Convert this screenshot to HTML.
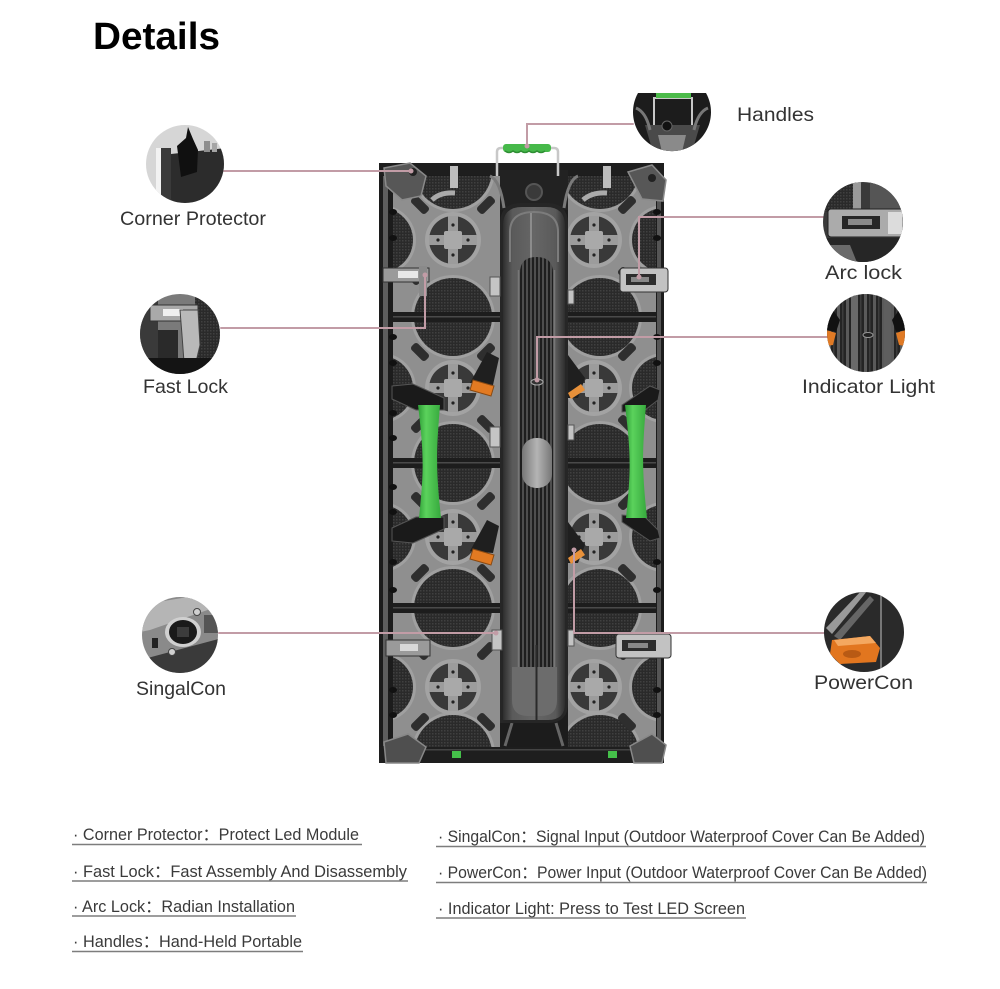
<!DOCTYPE html>
<html><head><meta charset="utf-8"><style>
html,body{margin:0;padding:0;background:#fff;}
svg{display:block;}
text{font-family:"Liberation Sans","Noto Sans CJK SC",Arial,sans-serif;}
</style></head><body>
<svg width="1000" height="989" viewBox="0 0 1000 989" xmlns="http://www.w3.org/2000/svg">
<defs>
 <pattern id="mesh" width="3" height="3" patternUnits="userSpaceOnUse"><rect width="3" height="3" fill="#2a2a2a"/><rect width="1.5" height="1.5" fill="#404040"/></pattern>
 <pattern id="groove" width="4" height="10" patternUnits="userSpaceOnUse"><rect width="4" height="10" fill="#4e4e4e"/><rect width="2" height="10" fill="#1e1e1e"/></pattern>
 <pattern id="stripes" width="9" height="10" patternUnits="userSpaceOnUse"><rect width="9" height="10" fill="#242424"/><rect x="0" width="3" height="10" fill="#5a5a5a"/><rect x="5" width="1.5" height="10" fill="#3c3c3c"/></pattern>
 <linearGradient id="spineG" x1="0" x2="1"><stop offset="0" stop-color="#2e2e2e"/><stop offset=".15" stop-color="#5a5a5a"/><stop offset=".5" stop-color="#666"/><stop offset=".85" stop-color="#5a5a5a"/><stop offset="1" stop-color="#2e2e2e"/></linearGradient>
 <linearGradient id="ovalG" x1="0" x2="1"><stop offset="0" stop-color="#777"/><stop offset=".5" stop-color="#b4b4b4"/><stop offset="1" stop-color="#777"/></linearGradient>
 <linearGradient id="greenG" x1="0" x2="1"><stop offset="0" stop-color="#2f9e37"/><stop offset=".35" stop-color="#5bd25c"/><stop offset="1" stop-color="#36a83d"/></linearGradient>
 <clipPath id="colL"><rect x="393" y="176" width="107" height="572"/></clipPath>
 <clipPath id="colR"><rect x="568" y="176" width="88" height="572"/></clipPath>
 <clipPath id="c1"><circle cx="185" cy="164" r="39"/></clipPath>
 <clipPath id="c2"><circle cx="180" cy="334" r="40"/></clipPath>
 <clipPath id="c3"><path d="M638,93 L706,93 A39,39 0 1,1 638,93 Z"/></clipPath>
 <clipPath id="c4"><circle cx="863" cy="222" r="40"/></clipPath>
 <clipPath id="c5"><circle cx="866" cy="333" r="39"/></clipPath>
 <clipPath id="c6"><circle cx="180" cy="635" r="38"/></clipPath>
 <clipPath id="c7"><circle cx="864" cy="632" r="40"/></clipPath>
 <g id="petal">
  <circle r="28" fill="#a3a3a3"/>
  <circle r="24" fill="#393939"/>
  <path d="M-24,-5H24V5H-24Z M-5,-24H5V24H-5Z" fill="#9c9c9c"/>
  <rect x="-9" y="-9" width="18" height="18" rx="2" fill="#a9a9a9"/>
  <circle cx="-15" cy="0" r="1.6" fill="#222"/><circle cx="15" cy="0" r="1.6" fill="#222"/>
  <circle cx="0" cy="-15" r="1.6" fill="#222"/><circle cx="0" cy="15" r="1.6" fill="#222"/>
 </g>
 <g id="big"><circle r="42" fill="#a0a0a0"/><circle r="39" fill="url(#mesh)"/></g>
 <g id="side"><circle r="35" fill="#a0a0a0"/><circle r="32" fill="url(#mesh)"/></g>
 <rect id="pad" x="-10" y="-4.5" width="20" height="9" rx="3" fill="#2e2e2e"/>
</defs>

<!-- Title -->
<text x="93" y="49" font-size="38" font-weight="bold" fill="#000" textLength="127" lengthAdjust="spacingAndGlyphs">Details</text>

<!-- ===== Cabinet ===== -->
<rect x="379" y="163" width="285" height="600" fill="#1c1c1c"/>
<rect x="383" y="176" width="5" height="570" fill="#5e5e5e"/>
<rect x="657" y="178" width="4" height="568" fill="#555"/>

<!-- Left column -->
<g clip-path="url(#colL)">
 <rect x="393" y="176" width="107" height="572" fill="#8f8f8f"/>
 <use href="#side" x="381" y="240"/><use href="#side" x="381" y="388"/><use href="#side" x="381" y="537"/><use href="#side" x="381" y="687"/>
 <use href="#big" x="453" y="170"/><use href="#big" x="453" y="317"/><use href="#big" x="453" y="463"/><use href="#big" x="453" y="608"/><use href="#big" x="453" y="754"/>
 <g>
  <use href="#pad" transform="translate(420,205) rotate(45)"/><use href="#pad" transform="translate(486,205) rotate(-45)"/>
  <use href="#pad" transform="translate(420,276) rotate(-45)"/>
  <use href="#pad" transform="translate(420,352) rotate(45)"/><use href="#pad" transform="translate(486,352) rotate(-45)"/>
  <use href="#pad" transform="translate(420,424) rotate(-45)"/><use href="#pad" transform="translate(486,424) rotate(45)"/>
  <use href="#pad" transform="translate(420,501) rotate(45)"/><use href="#pad" transform="translate(486,501) rotate(-45)"/>
  <use href="#pad" transform="translate(420,573) rotate(-45)"/><use href="#pad" transform="translate(486,573) rotate(45)"/>
  <use href="#pad" transform="translate(420,651) rotate(45)"/><use href="#pad" transform="translate(486,651) rotate(-45)"/>
  <use href="#pad" transform="translate(420,722) rotate(-45)"/><use href="#pad" transform="translate(486,722) rotate(45)"/>
 </g>
 <use href="#petal" x="453" y="240"/><use href="#petal" x="453" y="388"/><use href="#petal" x="453" y="537"/><use href="#petal" x="453" y="687"/>
 <g fill="#1d1d1d">
  <rect x="393" y="312" width="107" height="10"/><rect x="393" y="458" width="107" height="10"/><rect x="393" y="603" width="107" height="10"/>
 </g>
 <g fill="#4a4a4a">
  <rect x="393" y="316" width="107" height="1.5"/><rect x="393" y="462" width="107" height="1.5"/><rect x="393" y="607" width="107" height="1.5"/>
 </g>
</g>

<!-- Right column -->
<g clip-path="url(#colR)">
 <rect x="568" y="176" width="88" height="572" fill="#8f8f8f"/>
 <use href="#side" x="664" y="240"/><use href="#side" x="664" y="388"/><use href="#side" x="664" y="537"/><use href="#side" x="664" y="687"/>
 <use href="#big" x="600" y="170"/><use href="#big" x="600" y="317"/><use href="#big" x="600" y="463"/><use href="#big" x="600" y="608"/><use href="#big" x="600" y="754"/>
 <use href="#pad" transform="translate(627,205) rotate(-45)"/><use href="#pad" transform="translate(627,276) rotate(45)"/>
 <use href="#pad" transform="translate(627,352) rotate(-45)"/><use href="#pad" transform="translate(627,424) rotate(45)"/>
 <use href="#pad" transform="translate(627,501) rotate(-45)"/><use href="#pad" transform="translate(627,573) rotate(45)"/>
 <use href="#pad" transform="translate(627,651) rotate(-45)"/><use href="#pad" transform="translate(627,722) rotate(45)"/>
 <use href="#petal" x="594" y="240"/><use href="#petal" x="594" y="388"/><use href="#petal" x="594" y="537"/><use href="#petal" x="594" y="687"/>
 <g fill="#1d1d1d">
  <rect x="568" y="312" width="88" height="10"/><rect x="568" y="458" width="88" height="10"/><rect x="568" y="603" width="88" height="10"/>
 </g>
 <g fill="#4a4a4a">
  <rect x="568" y="316" width="88" height="1.5"/><rect x="568" y="462" width="88" height="1.5"/><rect x="568" y="607" width="88" height="1.5"/>
 </g>
</g>

<!-- edge tabs -->
<g fill="#111">
 <ellipse cx="393" cy="212" rx="4" ry="3"/><ellipse cx="393" cy="238" rx="4" ry="3"/><ellipse cx="393" cy="337" rx="4" ry="3"/><ellipse cx="393" cy="363" rx="4" ry="3"/>
 <ellipse cx="393" cy="413" rx="4" ry="3"/><ellipse cx="393" cy="438" rx="4" ry="3"/><ellipse cx="393" cy="487" rx="4" ry="3"/><ellipse cx="393" cy="512" rx="4" ry="3"/>
 <ellipse cx="393" cy="562" rx="4" ry="3"/><ellipse cx="393" cy="590" rx="4" ry="3"/><ellipse cx="393" cy="690" rx="4" ry="3"/><ellipse cx="393" cy="715" rx="4" ry="3"/>
 <ellipse cx="657" cy="212" rx="4" ry="3"/><ellipse cx="657" cy="238" rx="4" ry="3"/><ellipse cx="657" cy="337" rx="4" ry="3"/><ellipse cx="657" cy="363" rx="4" ry="3"/>
 <ellipse cx="657" cy="562" rx="4" ry="3"/><ellipse cx="657" cy="590" rx="4" ry="3"/><ellipse cx="657" cy="690" rx="4" ry="3"/><ellipse cx="657" cy="715" rx="4" ry="3"/>
</g>

<!-- top frame & mechanics -->
<rect x="379" y="163" width="285" height="12" fill="#1e1e1e"/>
<rect x="500" y="170" width="68" height="40" fill="#222"/>
<path d="M490,176 Q500,180 504,208" stroke="#7a7a7a" stroke-width="3" fill="none"/>
<path d="M578,176 Q568,180 564,208" stroke="#7a7a7a" stroke-width="3" fill="none"/>
<circle cx="534" cy="192" r="8" fill="#3a3a3a" stroke="#555" stroke-width="2"/>
<rect x="450" y="166" width="8" height="22" fill="#bdbdbd"/><rect x="603" y="166" width="8" height="22" fill="#bdbdbd"/>
<path d="M432,200 Q440,192 455,193" stroke="#aaa" stroke-width="5" fill="none"/>
<path d="M583,200 Q592,192 607,193" stroke="#aaa" stroke-width="5" fill="none"/>
<polygon points="384,168 410,163 426,176 421,196 402,200 386,186" fill="#575757" stroke="#8a8a8a" stroke-width="1.5"/>
<circle cx="413" cy="172" r="4" fill="#222"/>
<polygon points="628,172 652,165 666,180 663,201 642,199" fill="#575757" stroke="#8a8a8a" stroke-width="1.5"/>
<circle cx="652" cy="178" r="4" fill="#222"/>

<!-- bottom frame -->
<rect x="379" y="747" width="285" height="16" fill="#1e1e1e"/>
<rect x="393" y="749" width="262" height="1.5" fill="#444"/>
<polygon points="384,742 408,734 426,747 419,763 386,763" fill="#4f4f4f" stroke="#888" stroke-width="1.5"/>
<polygon points="630,746 652,734 666,745 662,763 634,763" fill="#4f4f4f" stroke="#888" stroke-width="1.5"/>
<rect x="452" y="751" width="9" height="7" fill="#45c04a"/><rect x="608" y="751" width="9" height="7" fill="#45c04a"/>
<path d="M505,746 L512,723 M563,746 L556,723" stroke="#666" stroke-width="3"/>

<!-- spine -->
<path d="M500,723 V224 Q500,203 521,203 H547 Q568,203 568,224 V703 Q568,723 548,723 Z" fill="#262626"/>
<path d="M503,720 V226 Q503,207 522,207 H546 Q565,207 565,226 V703 Q565,720 548,720 Z" fill="url(#spineG)"/>
<path d="M510,262 V232 Q510,212 534,212 Q558,212 558,232 V262" stroke="#7c7c7c" stroke-width="2" fill="none"/>
<line x1="531" y1="213" x2="531" y2="262" stroke="#9a9a9a" stroke-width="1.5"/>
<path d="M520,667 V273 Q520,257 536.5,257 Q553,257 553,273 V667 Z" fill="url(#groove)"/>
<line x1="518.5" y1="270" x2="518.5" y2="668" stroke="#777" stroke-width="1.5"/>
<line x1="554.5" y1="270" x2="554.5" y2="668" stroke="#777" stroke-width="1.5"/>
<path d="M512,667 H557 V700 Q557,716 541,716 H528 Q512,716 512,700 Z" fill="#6c6c6c"/>
<line x1="536.5" y1="645" x2="536.5" y2="720" stroke="#2a2a2a" stroke-width="2"/>
<rect x="522" y="438" width="30" height="50" rx="14" fill="url(#ovalG)"/>
<ellipse cx="537" cy="382" rx="6" ry="3" fill="#333" stroke="#aaa" stroke-width="1"/>

<!-- spine clips -->
<g fill="#c4c4c4" stroke="#555" stroke-width="1">
 <rect x="490" y="277" width="10" height="19"/><rect x="490" y="427" width="10" height="20"/><rect x="492" y="630" width="10" height="20"/>
 <rect x="568" y="425" width="6" height="15"/><rect x="568" y="630" width="6" height="16"/><rect x="568" y="290" width="6" height="14"/>
</g>

<!-- top handle -->
<path d="M497,176 V152 Q497,148 501,148 H554 Q558,148 558,152 V176" stroke="#c8c8c8" stroke-width="2.5" fill="none"/>
<rect x="503" y="144" width="48" height="8" rx="3" fill="#46b94a"/>
<path d="M505,151 q4,3 8,0 q4,3 8,0 q4,3 8,0 q4,3 8,0 q4,3 8,0" stroke="#2f8f34" stroke-width="1.5" fill="none"/>

<!-- fast locks left -->
<rect x="383" y="268" width="46" height="14" fill="#9a9a9a" stroke="#333"/>
<rect x="398" y="271" width="20" height="7" fill="#e8e8e8"/>
<rect x="419" y="266" width="8" height="30" fill="#8a8a8a"/>
<rect x="386" y="640" width="44" height="16" fill="#9a9a9a" stroke="#333"/>
<rect x="400" y="644" width="18" height="7" fill="#d8d8d8"/>

<!-- arc locks right -->
<rect x="620" y="268" width="48" height="24" rx="3" fill="#c2c2c2" stroke="#333"/>
<rect x="626" y="274" width="30" height="11" fill="#2d2d2d"/>
<rect x="631" y="277" width="18" height="5" fill="#888"/>
<rect x="616" y="634" width="55" height="24" rx="3" fill="#c2c2c2" stroke="#333"/>
<rect x="622" y="640" width="34" height="11" fill="#2d2d2d"/>
<rect x="628" y="643" width="20" height="5" fill="#888"/>

<!-- green side handles -->
<polygon points="392,386 413,384 444,398 444,410 416,410 392,399" fill="#1a1a1a" stroke="#555"/>
<polygon points="392,541 413,543 444,529 444,517 416,517 392,528" fill="#1a1a1a" stroke="#555"/>
<path d="M418,405 C424,455 424,470 419,518 L441,518 C436,470 436,455 440,405 Z" fill="url(#greenG)"/>
<polygon points="622,405 650,386 660,390 658,400 645,410 622,412" fill="#1a1a1a" stroke="#555"/>
<polygon points="622,515 645,517 658,530 660,538 650,541 622,522" fill="#1a1a1a" stroke="#555"/>
<path d="M625,405 C631,455 631,470 626,518 L647,518 C642,470 642,455 646,405 Z" fill="url(#greenG)"/>

<!-- orange connectors -->
<polygon points="470,383 487,352 499,358 493,385" fill="#1f1f1f"/>
<polygon points="473,380 494,386 491,396 470,390" fill="#e27a22" stroke="#8a4a12" stroke-width="1"/>
<polygon points="470,551 487,520 499,526 493,553" fill="#1f1f1f"/>
<polygon points="473,549 494,555 491,565 470,559" fill="#e27a22" stroke="#8a4a12" stroke-width="1"/>
<polygon points="568,355 585,378 578,398 568,398" fill="#1f1f1f"/>
<polygon points="568,393 581,384 585,390 571,399" fill="#e8913a"/>
<polygon points="568,522 585,545 578,563 568,563" fill="#1f1f1f"/>
<polygon points="568,558 581,549 585,555 571,564" fill="#e8913a"/>

<!-- ===== callout lines ===== -->
<g stroke="#c29ca6" stroke-width="2" fill="none" stroke-linecap="round">
 <path d="M224,171 H411"/>
 <path d="M221,328 H425 V275"/>
 <path d="M527,146 V124 H633"/>
 <path d="M824,217 H639 V277"/>
 <path d="M827,337 H537 V380"/>
 <path d="M219,633 H496"/>
 <path d="M824,633 H574 V550"/>
</g>
<g fill="#c29ca6">
 <circle cx="411" cy="171" r="2.5"/><circle cx="425" cy="275" r="2.5"/><circle cx="527" cy="146" r="2.5"/>
 <circle cx="639" cy="277" r="2.5"/><circle cx="537" cy="380" r="2.5"/><circle cx="496" cy="633" r="2.5"/><circle cx="574" cy="550" r="2.5"/>
</g>

<!-- ===== callout circles ===== -->
<!-- Corner Protector -->
<g clip-path="url(#c1)">
 <rect x="140" y="120" width="90" height="90" fill="#d6d6d6"/>
 <rect x="156" y="148" width="5" height="60" fill="#f2f2f2"/>
 <rect x="161" y="148" width="10" height="60" fill="#3a3a3a"/>
 <polygon points="171,154 226,148 226,210 171,210" fill="#2c2c2c"/>
 <polygon points="177,146 186,138 188,127 193,139 198,150 197,172 181,177" fill="#101010"/>
 <rect x="204" y="141" width="6" height="11" fill="#8e8e8e"/><rect x="212" y="143" width="5" height="9" fill="#a5a5a5"/>
</g>
<!-- Fast Lock -->
<g clip-path="url(#c2)">
 <rect x="138" y="292" width="85" height="85" fill="#7a7a7a"/>
 <rect x="195" y="292" width="30" height="70" fill="url(#mesh)"/>
 <rect x="138" y="292" width="20" height="85" fill="#3a3a3a"/>
 <rect x="150" y="305" width="48" height="16" fill="#a9a9a9" stroke="#333"/>
 <rect x="163" y="309" width="20" height="7" fill="#f0f0f0"/>
 <polygon points="180,310 198,310 200,345 196,362 184,362 182,335" fill="#b9b9b9" stroke="#444"/>
 <rect x="138" y="358" width="85" height="20" fill="#141414"/>
 <rect x="158" y="330" width="20" height="28" fill="#2a2a2a"/>
</g>
<!-- Handles -->
<g clip-path="url(#c3)">
 <rect x="630" y="90" width="85" height="65" fill="#1c1c1c"/>
 <path d="M654,125 V98 H692 V125" stroke="#c8c8c8" stroke-width="2" fill="none"/>
 <rect x="656" y="92" width="35" height="6" fill="#4cbb4a"/>
 <polygon points="645,125 700,125 692,152 653,152" fill="#4a4a4a"/>
 <polygon points="658,135 686,135 682,152 662,152" fill="#8a8a8a"/>
 <circle cx="667" cy="126" r="5" fill="#111" stroke="#666"/>
 <path d="M636,108 Q646,112 650,130" stroke="#777" stroke-width="3" fill="none"/>
 <path d="M708,108 Q698,112 694,130" stroke="#777" stroke-width="3" fill="none"/>
</g>
<!-- Arc lock -->
<g clip-path="url(#c4)">
 <rect x="820" y="180" width="86" height="85" fill="#3a3a3a"/>
 <rect x="820" y="180" width="36" height="32" fill="url(#mesh)"/>
 <rect x="853" y="180" width="8" height="32" fill="#9a9a9a"/>
 <rect x="870" y="182" width="30" height="28" fill="#555"/>
 <rect x="828" y="209" width="76" height="28" rx="3" fill="#ababab" stroke="#222"/>
 <rect x="842" y="216" width="38" height="13" fill="#262626"/>
 <rect x="848" y="219" width="24" height="6" fill="#8a8a8a"/>
 <rect x="888" y="212" width="14" height="22" fill="#dcdcdc"/>
 <rect x="820" y="238" width="86" height="28" fill="#262626"/>
 <polygon points="825,245 850,245 858,265 825,265" fill="#6a6a6a"/>
</g>
<!-- Indicator Light -->
<g clip-path="url(#c5)">
 <rect x="826" y="293" width="82" height="82" fill="url(#stripes)"/>
 <rect x="851" y="293" width="7" height="82" fill="#6a6a6a"/>
 <rect x="884" y="293" width="7" height="82" fill="#5e5e5e"/>
 <ellipse cx="868" cy="335" rx="5" ry="2.5" fill="#222" stroke="#999"/>
 <polygon points="826,330 836,333 833,345 826,346" fill="#e07a25"/>
 <polygon points="906,330 896,333 899,345 906,346" fill="#e07a25"/>
 <polygon points="826,300 840,320 836,332 826,330" fill="#111"/>
 <polygon points="906,300 892,320 896,332 906,330" fill="#111"/>
</g>
<!-- SingalCon -->
<g clip-path="url(#c6)">
 <rect x="140" y="595" width="82" height="80" fill="#8a8a8a"/>
 <polygon points="140,605 200,595 222,595 222,605 150,630 140,632" fill="#b5b5b5"/>
 <polygon points="140,660 222,638 222,675 140,675" fill="#3a3a3a"/>
 <ellipse cx="183" cy="632" rx="18" ry="15" fill="#d0d0d0"/>
 <ellipse cx="183" cy="632" rx="14" ry="12" fill="#1a1a1a"/>
 <rect x="177" y="627" width="12" height="10" fill="#3c3c3c"/>
 <circle cx="197" cy="612" r="3.5" fill="#d0d0d0" stroke="#444"/>
 <circle cx="172" cy="652" r="3.5" fill="#d0d0d0" stroke="#444"/>
 <rect x="152" y="638" width="6" height="10" fill="#222"/>
 <rect x="204" y="615" width="14" height="18" fill="#555"/>
</g>
<!-- PowerCon -->
<g clip-path="url(#c7)">
 <rect x="822" y="590" width="85" height="85" fill="#2a2a2a"/>
 <polygon points="826,628 862,590 868,590 832,634" fill="#9a9a9a"/>
 <polygon points="834,636 870,596 874,600 840,640" fill="#666"/>
 <rect x="880" y="590" width="2" height="85" fill="#777"/>
 <polygon points="832,640 870,636 880,648 876,662 840,664 830,654" fill="#e2761f"/>
 <polygon points="834,640 870,636 876,643 838,646" fill="#f4a860"/>
 <ellipse cx="852" cy="654" rx="9" ry="4" fill="#b85a14"/>
</g>

<!-- ===== callout labels ===== -->
<g fill="#333" font-size="19.5">
 <text x="120" y="225" textLength="146" lengthAdjust="spacingAndGlyphs">Corner Protector</text>
 <text x="143" y="393" textLength="85" lengthAdjust="spacingAndGlyphs">Fast Lock</text>
 <text x="136" y="695" textLength="90" lengthAdjust="spacingAndGlyphs">SingalCon</text>
 <text x="737" y="121" textLength="77" lengthAdjust="spacingAndGlyphs">Handles</text>
 <text x="825" y="279" textLength="77" lengthAdjust="spacingAndGlyphs">Arc lock</text>
 <text x="802" y="393" textLength="133" lengthAdjust="spacingAndGlyphs">Indicator Light</text>
 <text x="814" y="689" textLength="99" lengthAdjust="spacingAndGlyphs">PowerCon</text>
</g>

<!-- ===== bottom list ===== -->
<g fill="#3a3a3a" font-size="16.5">
 <text x="73" y="840" textLength="286" lengthAdjust="spacingAndGlyphs">· Corner Protector：Protect Led Module</text>
 <text x="73" y="877" textLength="334" lengthAdjust="spacingAndGlyphs">· Fast Lock：Fast Assembly And Disassembly</text>
 <text x="73" y="912" textLength="222" lengthAdjust="spacingAndGlyphs">· Arc Lock：Radian Installation</text>
 <text x="73" y="947" textLength="229" lengthAdjust="spacingAndGlyphs">· Handles：Hand-Held Portable</text>
 <text x="438" y="842" textLength="487" lengthAdjust="spacingAndGlyphs">· SingalCon：Signal Input (Outdoor Waterproof Cover Can Be Added)</text>
 <text x="438" y="878" textLength="489" lengthAdjust="spacingAndGlyphs">· PowerCon：Power Input (Outdoor Waterproof Cover Can Be Added)</text>
 <text x="438" y="914" textLength="307" lengthAdjust="spacingAndGlyphs">· Indicator Light: Press to Test LED Screen</text>
</g>
<g stroke="#7d7d7d" stroke-width="1.5">
 <line x1="72" y1="844.5" x2="362" y2="844.5"/>
 <line x1="72" y1="881" x2="408" y2="881"/>
 <line x1="72" y1="916" x2="296" y2="916"/>
 <line x1="72" y1="951.5" x2="303" y2="951.5"/>
 <line x1="436" y1="846.5" x2="926" y2="846.5"/>
 <line x1="436" y1="882.5" x2="927" y2="882.5"/>
 <line x1="436" y1="918" x2="746" y2="918"/>
</g>
</svg>
</body></html>
